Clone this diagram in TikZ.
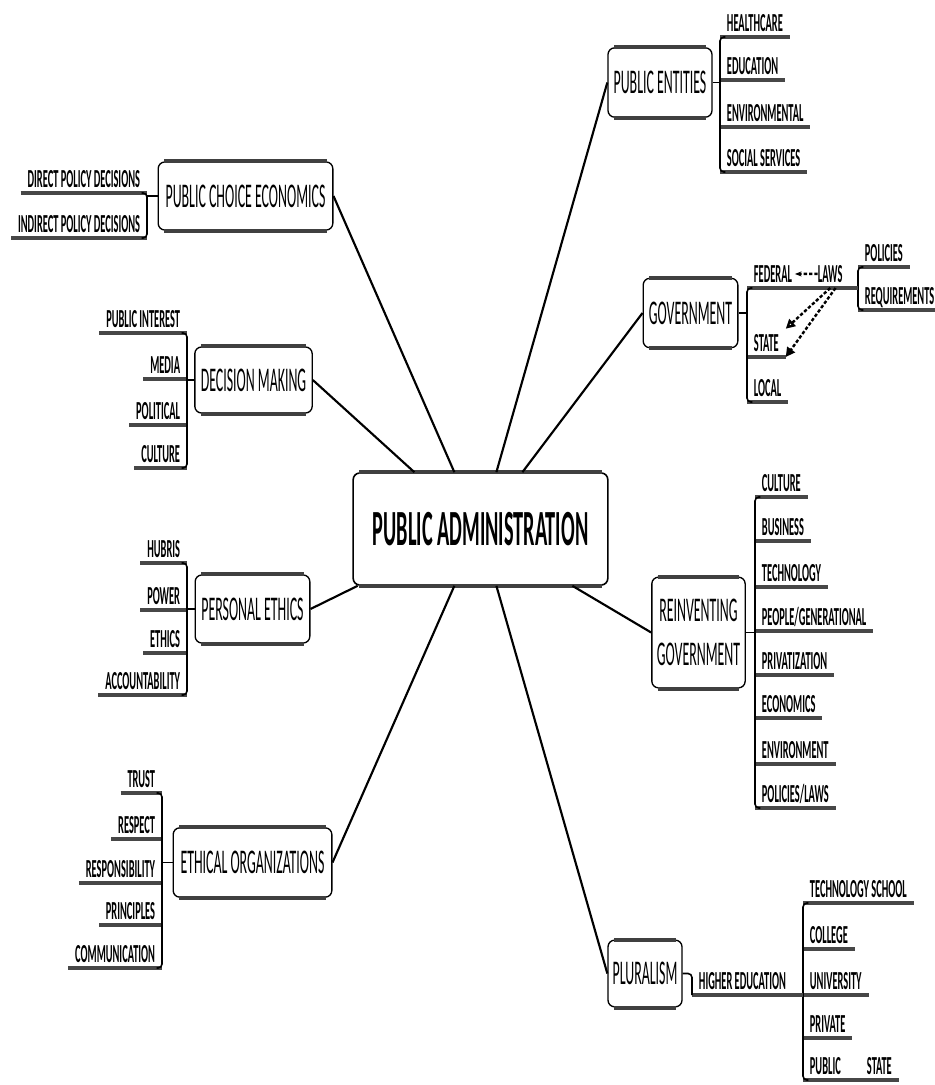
\documentclass[tikz,border=0pt]{standalone}
\usepackage{fontspec}
\setmainfont{Carlito}[FakeStretch=0.4]
\usepackage{tikz}
\usetikzlibrary{arrows.meta}

\begin{document}
\begin{tikzpicture}[x=0.75pt,y=-0.75pt,>={Stealth[length=5pt]},
  topic/.style={draw,line width=1pt,rounded corners=5pt,fill=white,inner sep=0pt,align=center,font=\fontsize{26pt}{33pt}\selectfont},
  core/.style={topic,line width=1.2pt,font=\fontsize{38pt}{40pt}\selectfont\bfseries},
  uline/.style={line width=3pt,black!72},
  rim/.style={line width=3pt,black!75},
  leaf/.style={font=\fontsize{19.5pt}{20pt}\selectfont\bfseries,inner xsep=5pt,inner ysep=4pt,text depth=0pt,
    append after command={(\tikzlastnode.south west) edge[uline] (\tikzlastnode.south east)}},
  leafr/.style={leaf,anchor=south west},
  leafl/.style={leaf,anchor=south east},
  brace/.style={line width=1.2pt,rounded corners=3pt},
  spoke/.style={line width=1.6pt},
  stub/.style={line width=0.8pt},
  lawarrow/.style={line width=1.8pt,dash pattern=on 2.5pt off 1.5pt}]
\useasboundingbox (0,0) rectangle (935,1085);

\node[core,minimum width=191pt,minimum height=84pt] (pa) at (480.5,529) {PUBLIC ADMINISTRATION};

\node[topic,minimum width=131pt,minimum height=51pt] (pce) at (245.5,196) {PUBLIC CHOICE ECONOMICS};
\node[topic,minimum width=88pt,minimum height=49.5pt] (dm) at (253.5,380) {DECISION MAKING};
\node[topic,minimum width=86pt,minimum height=51pt] (pe) at (252.5,609) {PERSONAL ETHICS};
\node[topic,minimum width=119pt,minimum height=52pt] (eo) at (252.5,862.5) {ETHICAL ORGANIZATIONS};
\node[topic,minimum width=78pt,minimum height=52pt] (pen) at (660,82.5) {PUBLIC ENTITIES};
\node[topic,minimum width=71pt,minimum height=52pt] (gov) at (690.5,313) {GOVERNMENT};
\node[topic,minimum width=70pt,minimum height=83pt] (rg) at (698.5,632.5) {REINVENTING\\GOVERNMENT};
\node[topic,minimum width=55.5pt,minimum height=50pt] (plu) at (645,973.5) {PLURALISM};

\foreach \n in {pa,pce,dm,pe,eo,pen,gov,rg,plu} {
  \draw[rim] ([xshift=5pt]\n.north west) -- ([xshift=-5pt]\n.north east);
  \draw[rim] ([xshift=5pt]\n.south west) -- ([xshift=-5pt]\n.south east);
}

\draw[spoke] (pce.east) -- ([xshift=76.5pt]pa.north west);
\draw[spoke] (dm.east) -- ([xshift=46.5pt]pa.north west);
\draw[spoke] (pe.east) -- ([xshift=4pt]pa.south west);
\draw[spoke] (eo.east) -- ([xshift=76.5pt]pa.south west);
\draw[spoke] (pen.west) -- ([xshift=108pt]pa.north west);
\draw[spoke] (gov.west) -- ([xshift=127.5pt]pa.north west);
\draw[spoke] (rg.west) -- ([xshift=165pt]pa.south west);
\draw[spoke] (plu.west) -- ([xshift=108pt]pa.south west);

\node[leafl] (dpd) at (147,193) {DIRECT POLICY DECISIONS};
\node[leafl] (ipd) at (147,238) {INDIRECT POLICY DECISIONS};
\draw[brace] ([xshift=-4pt]dpd.south east) -- (dpd.south east) -- (ipd.south east) -- ([xshift=-4pt]ipd.south east);
\draw[stub] (pce.west) -- (pce.west -| dpd.south east);

\node[leafl] (pint) at (187,333) {PUBLIC INTEREST};
\node[leafl] (med) at (187,379) {MEDIA};
\node[leafl] (pol) at (187,425) {POLITICAL};
\node[leafl] (cul) at (187,468) {CULTURE};
\draw[brace] ([xshift=-4pt]pint.south east) -- (pint.south east) -- (cul.south east) -- ([xshift=-4pt]cul.south east);
\draw[stub] (dm.west) -- (dm.west -| pint.south east);

\node[leafl] (hub) at (187,563) {HUBRIS};
\node[leafl] (pow) at (187,610) {POWER};
\node[leafl] (eth) at (187,653) {ETHICS};
\node[leafl] (acc) at (187,695) {ACCOUNTABILITY};
\draw[brace] ([xshift=-4pt]hub.south east) -- (hub.south east) -- (acc.south east) -- ([xshift=-4pt]acc.south east);
\draw[stub] (pe.west) -- (pe.west -| hub.south east);

\node[leafl] (tru) at (162,793) {TRUST};
\node[leafl] (res) at (162,839) {RESPECT};
\node[leafl] (rsp) at (162,883) {RESPONSIBILITY};
\node[leafl] (pri) at (162,925) {PRINCIPLES};
\node[leafl] (com) at (162,968) {COMMUNICATION};
\draw[brace] ([xshift=-4pt]tru.south east) -- (tru.south east) -- (com.south east) -- ([xshift=-4pt]com.south east);
\draw[stub] (eo.west) -- (eo.west -| tru.south east);

\node[leafr] (hc) at (720,37) {HEALTHCARE};
\node[leafr] (edu) at (720,80) {EDUCATION};
\node[leafr] (env) at (720,127) {ENVIRONMENTAL};
\node[leafr] (soc) at (720,172) {SOCIAL SERVICES};
\draw[brace] ([xshift=4pt]hc.south west) -- (hc.south west) -- (soc.south west) -- ([xshift=4pt]soc.south west);
\draw[stub] (pen.east) -- (pen.east -| hc.south west);

\node[leafr] (fed) at (747,288) {FEDERAL};
\node[leafr] (sta) at (747,357) {STATE};
\node[leafr] (loc) at (747,402) {LOCAL};
\node[leafr] (laws) at (811,288) {LAWS};
\node[leafr] (plc) at (858,267) {POLICIES};
\node[leafr] (req) at (858,310) {REQUIREMENTS};
\draw[brace] ([xshift=4pt]fed.south west) -- (fed.south west) -- (loc.south west) -- ([xshift=4pt]loc.south west);
\draw[brace] ([xshift=4pt]plc.south west) -- (plc.south west) -- (req.south west) -- ([xshift=4pt]req.south west);
\draw[stub] (gov.east) -- (gov.east -| fed.south west);
\draw[uline] (fed.south east) -- (laws.south west);
\draw[uline] (laws.south east) -- (laws.south east -| plc.south west);
\draw[lawarrow,->] ([xshift=5pt]laws.west) -- ([xshift=-3pt]fed.east);
\draw[lawarrow,-{Triangle[open,length=7pt,width=7pt]}] (laws.south) -- (sta.north east);
\draw[lawarrow,-{Triangle[length=7pt,width=7pt]}] ([xshift=4pt]laws.south) -- (sta.south east);

\node[leafr] (rcul) at (755,497) {CULTURE};
\node[leafr] (bus) at (755,541) {BUSINESS};
\node[leafr] (tec) at (755,587) {TECHNOLOGY};
\node[leafr] (peo) at (755,631) {PEOPLE/GENERATIONAL};
\node[leafr] (prv) at (755,675) {PRIVATIZATION};
\node[leafr] (eco) at (755,718) {ECONOMICS};
\node[leafr] (envt) at (755,764) {ENVIRONMENT};
\node[leafr] (pll) at (755,808) {POLICIES/LAWS};
\draw[brace] ([xshift=4pt]rcul.south west) -- (rcul.south west) -- (pll.south west) -- ([xshift=4pt]pll.south west);
\draw[stub] (rg.east) -- (rg.east -| rcul.south west);

\node[leafr] (hed) at (692,995) {HIGHER EDUCATION};
\node[leafr] (tsc) at (803,903) {TECHNOLOGY SCHOOL};
\node[leafr] (col) at (803,949) {COLLEGE};
\node[leafr] (uni) at (803,995) {UNIVERSITY};
\node[leafr] (pvt) at (803,1038) {PRIVATE};
\node[leafr] (pub) at (803,1080) {PUBLIC};
\node[leafr] (pst) at (860,1080) {STATE};
\draw[brace] ([xshift=4pt]tsc.south west) -- (tsc.south west) -- (pub.south west) -- ([xshift=4pt]pub.south west);
\draw[brace] (plu.east) -- (plu.east -| hed.south west) -- (hed.south west);
\draw[uline] (hed.south east) -- (hed.south east -| tsc.south west);
\draw[uline] (pub.south east) -- (pst.south west);
\end{tikzpicture}
\end{document}
